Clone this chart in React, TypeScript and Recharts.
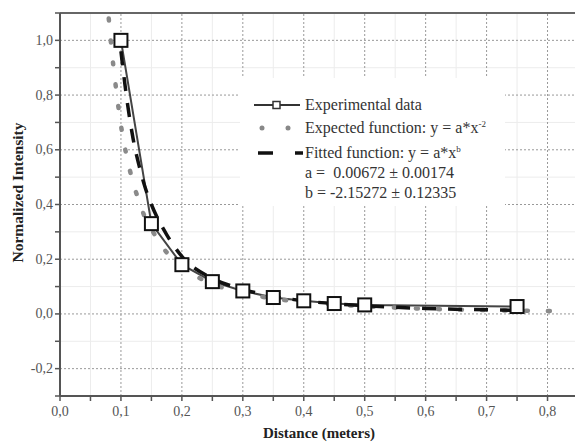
import React from "react";
import { ComposedChart, Line, XAxis, YAxis, ReferenceLine } from "recharts";

// experimental points (distance in m, normalized intensity)
const experimental = [
  { x: 0.1, y: 1.0 },
  { x: 0.15, y: 0.33 },
  { x: 0.2, y: 0.18 },
  { x: 0.25, y: 0.118 },
  { x: 0.3, y: 0.084 },
  { x: 0.35, y: 0.06 },
  { x: 0.4, y: 0.048 },
  { x: 0.45, y: 0.038 },
  { x: 0.5, y: 0.033 },
  { x: 0.75, y: 0.027 },
];

// expected function y = a*x^-2
const expected = [
  { x: 0.08, y: 1.08 },
  { x: 0.085, y: 0.96 },
  { x: 0.09, y: 0.86 },
  { x: 0.095, y: 0.77 },
  { x: 0.1, y: 0.69 },
  { x: 0.11, y: 0.57 },
  { x: 0.12, y: 0.48 },
  { x: 0.13, y: 0.41 },
  { x: 0.14, y: 0.35 },
  { x: 0.15, y: 0.31 },
  { x: 0.175, y: 0.225 },
  { x: 0.2, y: 0.172 },
  { x: 0.25, y: 0.11 },
  { x: 0.3, y: 0.077 },
  { x: 0.35, y: 0.056 },
  { x: 0.4, y: 0.043 },
  { x: 0.5, y: 0.028 },
  { x: 0.6, y: 0.019 },
  { x: 0.7, y: 0.014 },
  { x: 0.82, y: 0.01 },
];

// fitted function y = a*x^b
const fitted = [
  { x: 0.1, y: 0.96 },
  { x: 0.11, y: 0.78 },
  { x: 0.12, y: 0.64 },
  { x: 0.13, y: 0.54 },
  { x: 0.14, y: 0.46 },
  { x: 0.15, y: 0.4 },
  { x: 0.175, y: 0.29 },
  { x: 0.2, y: 0.21 },
  { x: 0.25, y: 0.13 },
  { x: 0.3, y: 0.09 },
  { x: 0.35, y: 0.064 },
  { x: 0.4, y: 0.048 },
  { x: 0.5, y: 0.03 },
  { x: 0.6, y: 0.02 },
  { x: 0.7, y: 0.015 },
  { x: 0.76, y: 0.013 },
];

const xTicks = [0, 0.05, 0.1, 0.15, 0.2, 0.25, 0.3, 0.35, 0.4, 0.45, 0.5, 0.55, 0.6, 0.65, 0.7, 0.75, 0.8, 0.85];
const xLabels = [0, 0.1, 0.2, 0.3, 0.4, 0.5, 0.6, 0.7, 0.8];
const yTicks = [-0.3, -0.2, -0.1, 0, 0.1, 0.2, 0.3, 0.4, 0.5, 0.6, 0.7, 0.8, 0.9, 1.0, 1.1];
const yLabels = [-0.2, 0, 0.2, 0.4, 0.6, 0.8, 1.0];

const xMajorGrid = [0.1, 0.2, 0.3, 0.4, 0.5, 0.6, 0.7, 0.8];
const xMinorGrid = [0.05, 0.15, 0.25, 0.35, 0.45, 0.55, 0.65, 0.75];
const yMajorGrid = [-0.2, 0, 0.2, 0.4, 0.6, 0.8, 1.0];
const yMinorGrid = [-0.1, 0.1, 0.3, 0.5, 0.7, 0.9];

const FONT = '"Liberation Serif", "DejaVu Serif", serif';
const has = (arr: number[], v: number) => arr.some((a) => Math.abs(a - v) < 1e-6);
const fmt = (v: number) => v.toFixed(1).replace(".", ",");

const XTick = (props: any) => {
  const { x, y, payload } = props;
  if (!has(xLabels, payload.value)) return null;
  return (
    <text x={x} y={y} dy={13} textAnchor="middle" fontSize={14} fill="#555" fontFamily={FONT}>
      {fmt(payload.value)}
    </text>
  );
};

const YTick = (props: any) => {
  const { x, y, payload } = props;
  if (!has(yLabels, payload.value)) return null;
  return (
    <text x={x} y={y} dy={4.5} textAnchor="end" fontSize={14} fill="#555" fontFamily={FONT}>
      {fmt(payload.value)}
    </text>
  );
};

const Square = (props: any) => {
  const { cx, cy, index } = props;
  return <rect key={index} x={cx - 6.5} y={cy - 6.5} width={13} height={13} fill="#fff" stroke="#111" strokeWidth={2} />;
};

const LegendBox = () => {
  const row = (top: number, icon: React.ReactNode, text: React.ReactNode) => (
    <div style={{ position: "absolute", top, left: 0, height: 20, display: "flex", alignItems: "center" }}>
      <svg width={65} height={20}>{icon}</svg>
      <span style={{ fontFamily: FONT, fontSize: 16, color: "#333", whiteSpace: "pre" }}>{text}</span>
    </div>
  );
  return (
    <div style={{ position: "absolute", left: 240, top: 78, width: 265, height: 128, background: "#fff" }}>
      {row(
        17,
        <g>
          <line x1={14} x2={60} y1={10} y2={10} stroke="#333" strokeWidth={2} />
          <rect x={33} y={6.5} width={7} height={7} fill="#fff" stroke="#333" strokeWidth={1.5} />
        </g>,
        "Experimental data"
      )}
      {row(
        40,
        <g>
          <circle cx={22} cy={10} r={2.5} fill="#888" />
          <circle cx={48} cy={10} r={2.5} fill="#888" />
        </g>,
        <>
          Expected function: y = a*x<sup style={{ fontSize: 9 }}>-2</sup>
        </>
      )}
      {row(
        65,
        <g>
          <line x1={18} x2={33} y1={10} y2={10} stroke="#111" strokeWidth={3.5} />
          <line x1={55} x2={63} y1={10} y2={10} stroke="#111" strokeWidth={3.5} />
        </g>,
        <>
          Fitted function: y = a*x<sup style={{ fontSize: 9 }}>b</sup>
        </>
      )}
      {row(85, null, "a =  0.00672 ± 0.00174")}
      {row(105, null, "b = -2.15272 ± 0.12335")}
    </div>
  );
};

export default function App() {
  return (
    <div style={{ position: "absolute", left: 0, top: 0, width: 575, height: 443, overflow: "hidden", background: "#fff" }}>
      <ComposedChart width={600} height={443} margin={{ top: 13, right: 22, bottom: 0, left: 0 }}>
        {xMinorGrid.map((v) => (
          <ReferenceLine key={"xm" + v} x={v} stroke="#ececec" strokeWidth={1} />
        ))}
        {yMinorGrid.map((v) => (
          <ReferenceLine key={"ym" + v} y={v} stroke="#ececec" strokeWidth={1} />
        ))}
        {xMajorGrid.map((v) => (
          <ReferenceLine key={"xM" + v} x={v} stroke="#999" strokeDasharray="2 2" strokeWidth={1} />
        ))}
        {yMajorGrid.map((v) => (
          <ReferenceLine key={"yM" + v} y={v} stroke="#999" strokeDasharray="2 2" strokeWidth={1} />
        ))}
        <ReferenceLine y={1.1} stroke="#666" strokeWidth={2} />
        <XAxis
          type="number"
          dataKey="x"
          domain={[0, 0.85]}
          ticks={xTicks}
          interval={0}
          allowDataOverflow
          height={47}
          tickSize={5}
          axisLine={{ stroke: "#555", strokeWidth: 2 }}
          tickLine={{ stroke: "#555", strokeWidth: 1.5 }}
          tick={<XTick />}
          label={{
            value: "Distance (meters)",
            position: "insideBottom",
            offset: 5,
            style: { fontFamily: FONT, fontSize: 15, fontWeight: "bold", fill: "#222" },
          }}
        />
        <YAxis
          type="number"
          domain={[-0.3, 1.1]}
          ticks={yTicks}
          interval={0}
          allowDataOverflow
          width={60}
          tickSize={5}
          axisLine={{ stroke: "#555", strokeWidth: 2 }}
          tickLine={{ stroke: "#555", strokeWidth: 1.5 }}
          tick={<YTick />}
          label={(p: any) => {
            const vb = p.viewBox || {};
            const cy = (vb.y ?? 13) + (vb.height ?? 383) / 2 - 12;
            return (
              <text
                x={17}
                y={cy}
                transform={`rotate(-90, 17, ${cy})`}
                textAnchor="middle"
                dominantBaseline="central"
                fontFamily={FONT}
                fontSize={15.5}
                fontWeight="bold"
                fill="#222"
              >
                Normalized Intensity
              </text>
            );
          }}
        />
        <Line
          data={experimental}
          dataKey="y"
          type="linear"
          stroke="#444"
          strokeWidth={2}
          dot={<Square />}
          isAnimationActive={false}
        />
        <Line
          data={expected}
          dataKey="y"
          type="monotone"
          stroke="#8a8a8a"
          strokeWidth={4.5}
          strokeDasharray="2 20"
          strokeLinecap="round"
          dot={false}
          isAnimationActive={false}
        />
        <Line
          data={fitted}
          dataKey="y"
          type="monotone"
          stroke="#111"
          strokeWidth={3.5}
          strokeDasharray="14 12"
          dot={false}
          isAnimationActive={false}
        />
      </ComposedChart>
      <LegendBox />
    </div>
  );
}
